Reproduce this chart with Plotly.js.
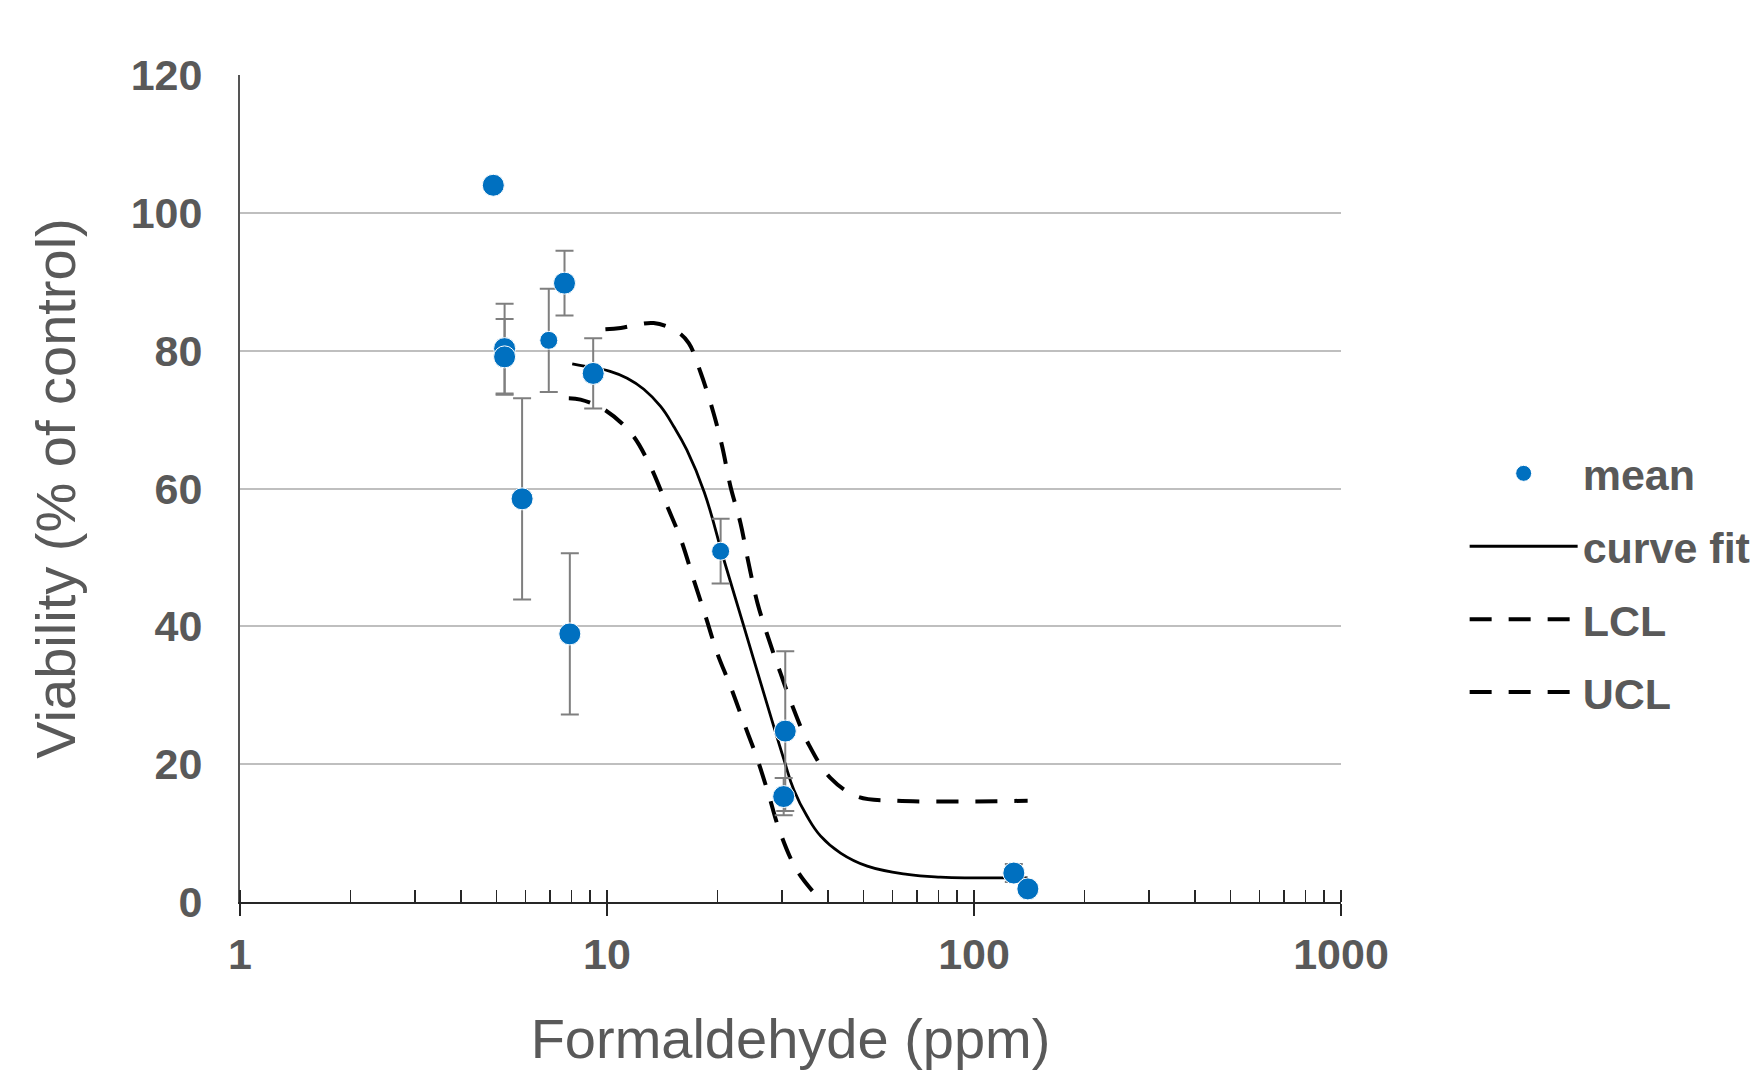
<!DOCTYPE html>
<html>
<head>
<meta charset="utf-8">
<script src="https://cdn.plot.ly/plotly-3.0.1.min.js"></script>
<style>
  html, body { margin: 0; padding: 0; background: #ffffff; }
  #chart { width: 1755px; height: 1070px; }
</style>
</head>
<body>
<div id="chart"></div>
<script>
// ---- data ----
var meanX   = [4.9, 5.26, 5.26, 5.87, 6.94, 7.66, 7.92, 9.17, 20.4, 30.6, 30.3, 128.4, 140.2];
var meanY   = [104.0, 80.3, 79.1, 58.5, 81.5, 89.8, 38.9, 76.7, 50.9, 24.8, 15.3, 4.2, 1.9];
var meanErr = [0, 6.5, 5.5, 14.6, 7.5, 4.7, 11.7, 5.1, 4.7, 11.6, 2.7, 1.3, 0];

var fitX = [8.04, 9.2, 10.2, 11.35, 12.6, 14.0, 15.2, 16.5, 18.4, 20.81, 23.6, 26.74, 30.33, 32.28, 35.12, 38.16, 43.3, 51.2, 65.8, 81, 100, 140];
var fitY = [78.1, 77.5, 77.0, 76.0, 74.4, 71.9, 69.0, 65.6, 59.5, 49.7, 40.0, 30.3, 20.7, 16.3, 12.4, 9.6, 7.1, 5.2, 4.0, 3.6, 3.5, 3.5];

var lclX = [7.87, 8.47, 9.8, 11.6, 13.0, 14.6, 15.9, 17.22, 18.55, 19.97, 21.7, 23.6, 25.7, 27.6, 29.5, 33.0, 38.6];
var lclY = [73.1, 72.9, 71.5, 68.1, 63.7, 57.4, 52.6, 46.8, 41.5, 36.1, 31.3, 26.0, 20.7, 15.5, 10.4, 4.5, 0];

var uclX = [9.9, 10.9, 13.4, 15.5, 16.7, 18.0, 19.5, 20.6, 21.7, 23.1, 24.3, 25.7, 27.6, 29.7, 32.3, 35.5, 40.6, 48.1, 60.5, 140];
var uclY = [83.1, 83.3, 84.0, 82.8, 81.1, 76.8, 71.0, 66.1, 60.3, 55.0, 49.2, 43.4, 38.1, 33.2, 27.9, 22.8, 18.0, 15.3, 14.7, 14.7];

var xTickVals = [1, 10, 100, 1000];
var xTickText = ['1', '10', '100', '1000'];
var yTickVals = [0, 20, 40, 60, 80, 100, 120];
var yTickText = ['0', '20', '40', '60', '80', '100', '120'];

var seriesNames = ['mean', 'curve fit', 'LCL', 'UCL'];
var xTitle = 'Formaldehyde (ppm)';
var yTitle = 'Viability (% of control)';

// ---- styling ----
var FONT = 'Liberation Sans, Arial, sans-serif';
var TXT = '#595959';
var AXIS = '#262626';

var traces = [
  {
    x: fitX, y: fitY, name: seriesNames[1], type: 'scatter', mode: 'lines',
    line: { color: '#000000', width: 2.8, shape: 'spline', smoothing: 1.2 },
    legendgroup: 'g2', legendrank: 2, hoverinfo: 'skip'
  },
  {
    x: lclX, y: lclY, name: seriesNames[2], type: 'scatter', mode: 'lines',
    line: { color: '#000000', width: 4, dash: '22px,17px', shape: 'spline', smoothing: 1 },
    legendgroup: 'g3', legendrank: 3, hoverinfo: 'skip'
  },
  {
    x: uclX, y: uclY, name: seriesNames[3], type: 'scatter', mode: 'lines',
    line: { color: '#000000', width: 4, dash: '22px,17px', shape: 'spline', smoothing: 1 },
    legendgroup: 'g4', legendrank: 4, hoverinfo: 'skip'
  },
  {
    x: meanX, y: meanY, name: seriesNames[0], type: 'scatter', mode: 'markers',
    marker: { color: '#0070C0', opacity: 1, size: [22, 22, 22, 22, 18, 22, 22, 22, 18, 22, 22, 22, 22] },
    error_y: { type: 'data', array: meanErr, visible: true, color: '#7f7f7f', thickness: 2, width: 9 },
    legendgroup: 'g1', legendrank: 1
  },
  {
    x: [], y: [], xaxis: 'x2', type: 'scatter', mode: 'markers',
    showlegend: false, hoverinfo: 'skip'
  }
];

var layout = {
  width: 1755,
  height: 1070,
  paper_bgcolor: '#ffffff',
  plot_bgcolor: '#ffffff',
  margin: { l: 240, r: 414, t: 75, b: 168, pad: 0, autoexpand: false },
  font: { family: FONT, color: TXT },
  showlegend: true,
  xaxis: {
    type: 'log',
    range: [0, 3],
    tickmode: 'array',
    tickvals: xTickVals,
    ticktext: xTickText,
    ticks: 'outside',
    ticklen: 12,
    tickwidth: 2,
    tickcolor: AXIS,
    ticklabelstandoff: 1,
    tickfont: { family: FONT, size: 43, color: TXT, weight: 'bold' },
    minor: { ticks: 'inside', ticklen: 12, tickwidth: 1.5, tickcolor: AXIS, dtick: 'D1', showgrid: false },
    showline: true,
    linecolor: AXIS,
    linewidth: 2,
    showgrid: false,
    zeroline: false,
    automargin: false,
    title: { text: xTitle, font: { family: FONT, size: 56, color: TXT }, standoff: 61 }
  },
  xaxis2: {
    type: 'log',
    range: [0, 3],
    overlaying: 'x',
    anchor: 'y',
    side: 'bottom',
    tickmode: 'array',
    tickvals: xTickVals,
    ticks: 'inside',
    ticklen: 12,
    tickwidth: 2,
    tickcolor: AXIS,
    showticklabels: false,
    showline: false,
    showgrid: false,
    zeroline: false
  },
  yaxis: {
    range: [0, 120],
    tickmode: 'array',
    tickvals: yTickVals,
    ticktext: yTickText,
    ticks: '',
    ticklabelstandoff: 27,
    tickfont: { family: FONT, size: 43, color: TXT, weight: 'bold' },
    showline: true,
    linecolor: '#555555',
    linewidth: 2,
    showgrid: true,
    gridcolor: '#bfbfbf',
    gridwidth: 2,
    zeroline: false,
    automargin: false,
    title: { text: yTitle, font: { family: FONT, size: 56, color: TXT }, standoff: 37 }
  },
  legend: {
    x: 1.1123,
    xanchor: 'left',
    y: 0.56,
    yanchor: 'top',
    xref: 'paper',
    yref: 'paper',
    traceorder: 'grouped',
    tracegroupgap: 14,
    itemwidth: 108,
    bgcolor: 'rgba(0,0,0,0)',
    font: { family: FONT, size: 43, color: TXT, weight: 'bold' }
  }
};

Plotly.newPlot('chart', traces, layout, { displayModeBar: false, staticPlot: true });
</script>
</body>
</html>
